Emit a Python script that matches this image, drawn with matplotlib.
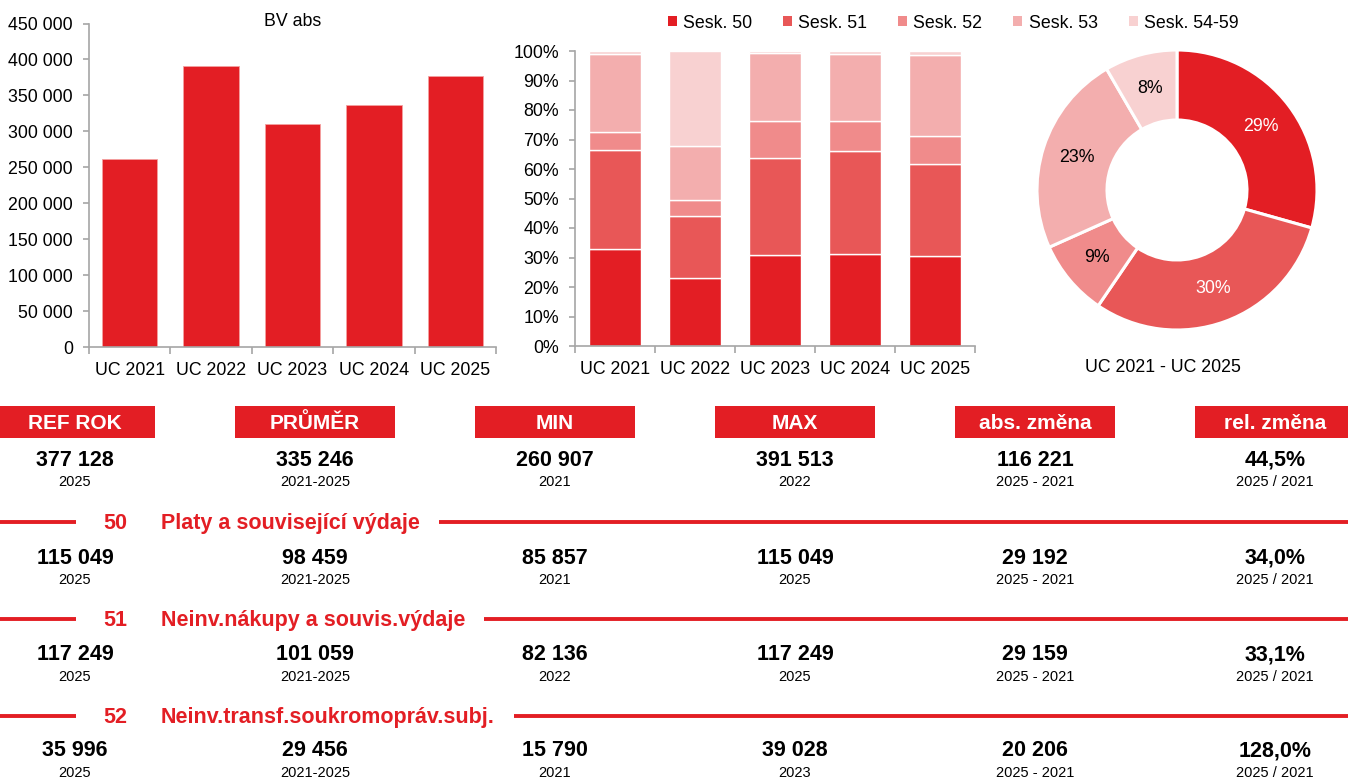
import matplotlib
matplotlib.use("Agg")
import matplotlib.pyplot as plt
from matplotlib.patches import Patch, Rectangle
from matplotlib.ticker import FuncFormatter, MultipleLocator
import numpy as np

plt.rcParams["font.family"] = ["Liberation Sans", "DejaVu Sans"]

# --- data -------------------------------------------------------------------
YEARS = ["UC 2021", "UC 2022", "UC 2023", "UC 2024", "UC 2025"]
BV_ABS = [260907, 391513, 310400, 336282, 377128]

SESK_LABELS = ["Sesk. 50", "Sesk. 51", "Sesk. 52", "Sesk. 53", "Sesk. 54-59"]
SESK_50 = [85857, 90600, 96000, 104789, 115049]
SESK_51 = [87400, 82136, 101510, 117000, 117249]
SESK_52 = [15790, 21300, 39028, 35166, 35996]
SESK_53 = [68880, 70860, 71700, 76000, 103330]
SESK_54_59 = [2980, 126617, 2162, 3327, 5504]

HEADERS = ["REF ROK", "PRŮMĚR", "MIN", "MAX", "abs. změna", "rel. změna"]
SECTIONS = [("50", "Platy a související výdaje"),
            ("51", "Neinv.nákupy a souvis.výdaje"),
            ("52", "Neinv.transf.soukromopráv.subj.")]
ROW_VALUES = [
    ["377 128", "335 246", "260 907", "391 513", "116 221", "44,5%"],
    ["115 049", "98 459", "85 857", "115 049", "29 192", "34,0%"],
    ["117 249", "101 059", "82 136", "117 249", "29 159", "33,1%"],
    ["35 996", "29 456", "15 790", "39 028", "20 206", "128,0%"],
]
ROW_SUBS = [
    ["2025", "2021-2025", "2021", "2022", "2025 - 2021", "2025 / 2021"],
    ["2025", "2021-2025", "2021", "2025", "2025 - 2021", "2025 / 2021"],
    ["2025", "2021-2025", "2022", "2025", "2025 - 2021", "2025 / 2021"],
    ["2025", "2021-2025", "2021", "2023", "2025 - 2021", "2025 / 2021"],
]

RED = "#E31E24"
SESK_COLOURS = ["#E31E24", "#E85757", "#F08B8B", "#F3AEAE", "#F8D1D1"]
GREY = "#A6A6A6"
FS = 12.8

W, H = 1348, 778
fig = plt.figure(figsize=(W / 100, H / 100), dpi=100)


def px_axes(x0, y0, x1, y1):
    return fig.add_axes([x0 / W, 1 - y1 / H, (x1 - x0) / W, (y1 - y0) / H])


def style_axes(ax):
    for s in ["top", "right"]:
        ax.spines[s].set_visible(False)
    for s in ["left", "bottom"]:
        ax.spines[s].set_color(GREY)
        ax.spines[s].set_linewidth(1.2)
    x = np.arange(len(YEARS))
    ax.set_xlim(-0.5, len(YEARS) - 0.5)
    ax.set_xticks(x)
    ax.set_xticklabels(YEARS)
    ax.set_xticks(np.arange(len(YEARS) + 1) - 0.5, minor=True)
    ax.tick_params(axis="x", which="major", length=0, pad=10.5, labelsize=FS)
    ax.tick_params(axis="x", which="minor", length=5, color=GREY, width=1.2)
    ax.tick_params(axis="y", length=4.5, color=GREY, width=1.2, pad=7, labelsize=FS)


# --- absolute bars ------------------------------------------------------------
ax1 = px_axes(89, 23.5, 496, 347)
ax1.bar(np.arange(len(YEARS)), BV_ABS, width=0.68, color=RED, edgecolor="#F4A0A0", linewidth=0.6)
ax1.set_ylim(0, 450000)
ax1.yaxis.set_major_locator(MultipleLocator(50000))
ax1.yaxis.set_major_formatter(FuncFormatter(lambda v, p: f"{int(v):,}".replace(",", " ")))
style_axes(ax1)
ax1.text(0.5, 1.005, "BV abs", transform=ax1.transAxes, ha="center", va="center", fontsize=FS)

# --- 100 % stacked bars ---------------------------------------------------------
ax2 = px_axes(575, 51, 975, 346)
stack = np.array([SESK_50, SESK_51, SESK_52, SESK_53, SESK_54_59], dtype=float)
shares = stack / np.array(BV_ABS, dtype=float)
bottom = np.zeros(len(YEARS))
for share, colour in zip(shares, SESK_COLOURS):
    ax2.bar(np.arange(len(YEARS)), share, bottom=bottom, width=0.66, color=colour,
            edgecolor="white", linewidth=1.0)
    bottom += share
ax2.set_ylim(0, 1)
ax2.yaxis.set_major_locator(MultipleLocator(0.1))
ax2.yaxis.set_major_formatter(FuncFormatter(lambda v, p: f"{v * 100:.0f}%"))
style_axes(ax2)

# --- donut ----------------------------------------------------------------------
ax3 = px_axes(1037, 50, 1317, 330)
totals = stack.sum(axis=1)
wedges, _, autotexts = ax3.pie(totals, colors=SESK_COLOURS, startangle=90, counterclock=False,
                               radius=1, autopct="%.0f%%", pctdistance=0.75,
                               wedgeprops=dict(width=0.5, edgecolor="white", linewidth=2.2),
                               textprops=dict(fontsize=FS))
for i, t in enumerate(autotexts):
    t.set_color("white" if i < 2 else "black")
ax3.set_xlim(-1, 1)
ax3.set_ylim(-1, 1)
ax3.set_aspect("equal")
fig.text(1163 / W, 1 - 368 / H, "UC 2021 - UC 2025", ha="center", va="center", fontsize=FS)

handles = [Patch(facecolor=c, edgecolor="none") for c in SESK_COLOURS]
fig.legend(handles, SESK_LABELS, loc="center", bbox_to_anchor=(953 / W, 1 - 23 / H), ncol=5,
           frameon=False, fontsize=FS, handlelength=0.5, handleheight=0.5,
           handletextpad=0.35, columnspacing=1.75, borderpad=0)

# --- summary table ----------------------------------------------------------------
axt = fig.add_axes([0, 0, 1, 1], zorder=-1)
axt.set_xlim(0, W)
axt.set_ylim(H, 0)
axt.axis("off")

col_x = [75 + 240 * i for i in range(len(HEADERS))]
for cx, head in zip(col_x, HEADERS):
    axt.add_patch(Rectangle((cx - 80, 406), 160, 32, facecolor=RED, edgecolor="none"))
    axt.text(cx, 423.5, head, ha="center", va="center", color="white", fontsize=15, fontweight="bold")

row_y = [460, 558, 655, 751]
for y, vals, subs in zip(row_y, ROW_VALUES, ROW_SUBS):
    for cx, v, s in zip(col_x, vals, subs):
        axt.text(cx, y, v, ha="center", va="center", fontsize=15.5, fontweight="bold", color="black")
        axt.text(cx, y + 22, s, ha="center", va="center", fontsize=10.5, color="black")

fig.canvas.draw()
renderer = fig.canvas.get_renderer()
section_y = [522, 619, 716]
for y, (code, title) in zip(section_y, SECTIONS):
    axt.text(127, y + 1.5, code, ha="right", va="center", fontsize=15.5, fontweight="bold", color=RED)
    t = axt.text(161, y + 1.5, title, ha="left", va="center", fontsize=15.5, fontweight="bold", color=RED)
    x_end = t.get_window_extent(renderer).x1
    axt.plot([0, 76], [y, y], color=RED, lw=2.8, solid_capstyle="butt")
    axt.plot([x_end + 19, W], [y, y], color=RED, lw=2.8, solid_capstyle="butt")

fig.savefig("out.png", dpi=100)
